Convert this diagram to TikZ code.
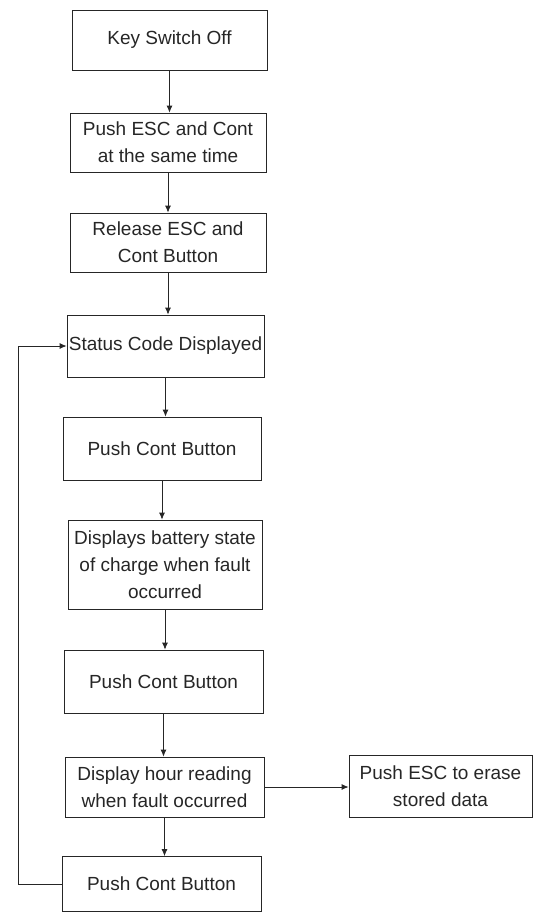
\documentclass[tikz,border=0pt]{standalone}
\usepackage{fontspec}
\setmainfont{Liberation Sans}
\usetikzlibrary{arrows.meta}
\begin{document}
\begin{tikzpicture}[x=1pt,y=-1pt,
  stepbox/.style={draw=black!85, line width=0.8pt, rectangle, align=center, inner sep=0pt,
    text=black!85, font=\fontsize{19}{27}\selectfont},
  arr/.style={draw=black!85, line width=0.8pt, -{Latex[length=7pt,width=6pt]}},
  ln/.style={draw=black!85, line width=0.8pt}]
\useasboundingbox (0,0) rectangle (535,919);
\node[stepbox, minimum width=195pt, minimum height=60pt] (b1) at (169.5,40) {Key Switch Off};
\node[stepbox, minimum width=196pt, minimum height=59pt] (b2) at (168,142.5) {Push ESC and Cont\\at the same time};
\node[stepbox, minimum width=196pt, minimum height=59pt] (b3) at (168,242.5) {Release ESC and\\Cont Button};
\node[stepbox, minimum width=197pt, minimum height=62pt] (b4) at (165.5,346) {Status Code Displayed};
\node[stepbox, minimum width=198pt, minimum height=63pt] (b5) at (162,448.5) {Push Cont Button};
\node[stepbox, minimum width=194pt, minimum height=89pt] (b6) at (165,564.5) {Displays battery state\\of charge when fault\\occurred};
\node[stepbox, minimum width=199pt, minimum height=63pt] (b7) at (163.5,681.5) {Push Cont Button};
\node[stepbox, minimum width=199pt, minimum height=60pt] (b8) at (164.5,787) {Display hour reading\\when fault occurred};
\node[stepbox, minimum width=199pt, minimum height=55pt] (b9) at (161.5,884) {Push Cont Button};
\node[stepbox, minimum width=183pt, minimum height=62pt] (b10) at (440.5,786) {Push ESC to erase\\stored data};
\coordinate (loopx) at (18,0);
\draw[arr] (b1.south) -- (b1.south |- b2.north);
\draw[arr] (b2.south) -- (b2.south |- b3.north);
\draw[arr] (b3.south) -- (b3.south |- b4.north);
\draw[arr] (b4.south) -- (b4.south |- b5.north);
\draw[arr] (b5.south) -- (b5.south |- b6.north);
\draw[arr] (b6.south) -- (b6.south |- b7.north);
\draw[arr] (b7.south) -- (b7.south |- b8.north);
\draw[arr] (b8.south) -- (b8.south |- b9.north);
\draw[arr] (b8.east) -- (b8.east -| b10.west);
\draw[arr] (b9.west) -- (b9.west -| loopx) |- (b4.west);
\end{tikzpicture}
\end{document}
